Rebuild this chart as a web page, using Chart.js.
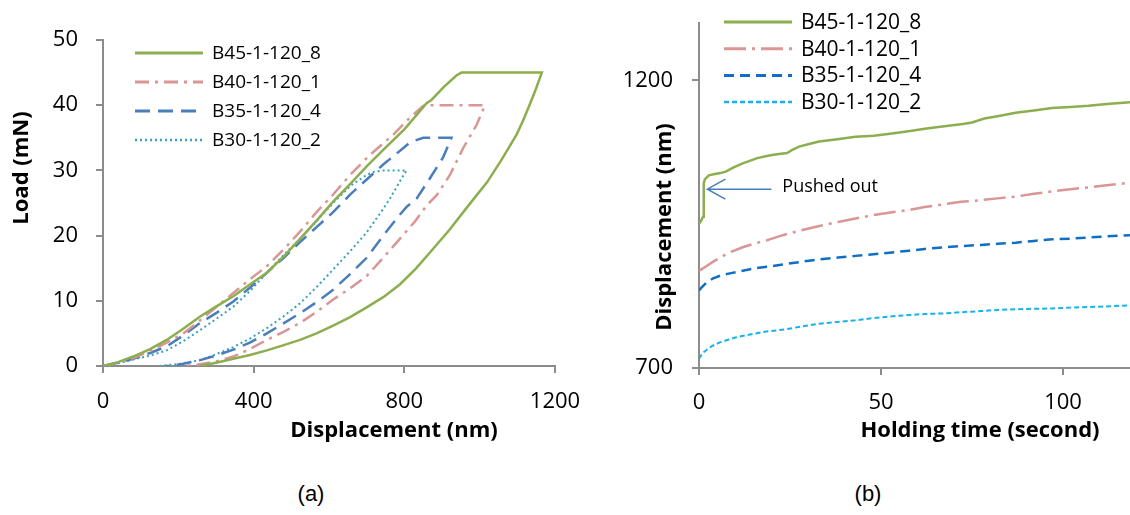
<!DOCTYPE html>
<html>
<head>
<meta charset="utf-8">
<script src="https://cdn.jsdelivr.net/npm/chart.js@4.4.1/dist/chart.umd.min.js"></script>
<style>
  body { margin: 0; background: #fff; }
  #page { position: relative; width: 1130px; height: 515px; overflow: hidden; background: #fff; }
  .box { position: absolute; top: 0; height: 460px; }
  #boxA { left: 0; width: 600px; }
  #boxB { left: 600px; width: 530px; }
  .cap { position: absolute; top: 481px; font: 22px "Liberation Sans", Arial, sans-serif; color: #000; transform: translateX(-50%); }
</style>
</head>
<body>
<div id="page">
  <div class="box" id="boxA"><canvas id="chartA"></canvas></div>
  <div class="box" id="boxB"><canvas id="chartB"></canvas></div>
  <div class="cap" style="left:311px">(a)</div>
  <div class="cap" style="left:868px">(b)</div>
</div>
<script>
// ---- (a) load vs displacement ----
const seriesNames = ['B45-1-120_8', 'B40-1-120_1', 'B35-1-120_4', 'B30-1-120_2'];

const b45Disp = [0, 40, 80, 125, 169, 213, 258, 300, 346, 390, 435, 480, 523, 567, 611, 656, 700, 750, 800, 840, 859, 872, 905, 939, 952,
  1165, 1150, 1133, 1115, 1098, 1060, 1020, 970, 920, 868, 830, 788, 745, 700, 656, 611, 567, 523, 480, 435, 390, 346, 300, 258];
const b45Load = [0, 0.6, 1.45, 2.6, 4.0, 5.7, 7.6, 9.1, 10.7, 12.5, 14.3, 16.8, 19.5, 22.3, 25.2, 27.9, 30.6, 33.5, 36.3, 39.0, 40.3, 40.8, 42.8, 44.6, 45,
  45, 42.6, 40.1, 37.6, 35.5, 31.8, 28.2, 24.6, 20.9, 17.4, 14.9, 12.5, 10.6, 9.0, 7.5, 6.2, 5.0, 4.0, 3.2, 2.4, 1.7, 1.1, 0.5, 0];

const b40Disp = [0, 40, 80, 125, 169, 213, 258, 300, 346, 390, 435, 480, 523, 567, 611, 656, 709, 771, 815, 850, 859,
  1014, 992, 956, 921, 886, 859, 830, 788, 744, 700, 656, 611, 567, 523, 478, 435, 390, 346, 300, 250, 212];
const b40Load = [0, 0.5, 1.2, 2.3, 3.6, 5.0, 7.0, 9.0, 11.2, 13.3, 15.3, 17.9, 20.6, 23.6, 26.3, 29.3, 32.4, 35.5, 38.1, 39.9, 40,
  40, 37, 33.4, 29.3, 26.2, 24.6, 22.3, 19.5, 16.6, 13.8, 11.9, 10.2, 8.3, 6.6, 5.2, 4.0, 2.6, 1.45, 0.7, 0.2, 0];

const b35Disp = [0, 40, 80, 125, 169, 213, 258, 300, 346, 390, 435, 480, 523, 567, 611, 656, 700, 744, 780, 815, 850,
  925, 903, 868, 833, 806, 788, 744, 700, 656, 611, 567, 523, 478, 435, 390, 346, 300, 258, 210, 169];
const b35Load = [0, 0.5, 1.1, 2.0, 3.0, 4.7, 6.6, 8.1, 9.9, 12.0, 14.3, 16.6, 19.0, 21.3, 23.6, 26.3, 28.6, 30.9, 32.6, 34.3, 35,
  35, 32, 28.8, 25.7, 24.4, 23.2, 20.0, 16.6, 14.1, 11.7, 9.8, 8.1, 6.5, 5.0, 3.6, 2.5, 1.6, 0.9, 0.3, 0];

const b30Disp = [0, 40, 80, 125, 169, 213, 258, 300, 346, 390, 435, 479, 523, 567, 611, 656, 700, 720, 744,
  806, 788, 762, 744, 700, 656, 611, 567, 523, 479, 435, 390, 346, 300, 258, 200, 151];
const b30Load = [0, 0.4, 1.0, 1.6, 2.4, 3.8, 5.5, 7.2, 9.1, 11.5, 14.3, 17.0, 19.5, 22.2, 25.0, 27.6, 29.3, 29.8, 30,
  30, 28.3, 25.7, 24.1, 20.5, 17.6, 14.8, 12.1, 9.6, 7.6, 5.8, 4.2, 2.9, 1.8, 0.9, 0.3, 0];

const dispTicksA = [0, 400, 800, 1200];
const loadTicksA = [0, 10, 20, 30, 40, 50];

// ---- (b) displacement vs holding time ----
const b45Time = [0, 0.5, 1.1, 1.3, 1.6, 2.7, 4, 5.9, 7.5, 9.5, 12, 14.7, 16, 19.6, 22, 24.2, 25.5, 27.5, 30, 33, 38, 43, 48, 53, 58, 63, 68, 72.5, 75, 78.4, 82, 87, 92, 97, 102, 107, 112, 118.4];
const b45Hold = [951, 955, 963, 1021, 1028, 1035, 1037, 1039, 1042, 1049, 1056, 1062, 1065, 1070, 1072, 1074, 1079, 1085, 1089, 1094, 1098, 1102, 1104, 1108, 1112, 1117, 1121, 1124.5, 1127, 1134, 1138, 1144, 1148, 1152, 1154, 1156, 1159, 1162];

const b40Time = [0, 2, 3.9, 6, 8.8, 12, 15, 18.6, 23, 28.4, 33, 38.2, 43, 48, 53, 57.8, 62, 67.6, 72, 77.5, 82, 87, 92, 97, 102, 107, 112, 118.4];
const b40Hold = [869, 877, 885, 893, 902, 910, 916, 922, 931, 940, 947, 954, 960, 966, 971, 975, 980, 985, 989, 992, 995, 998, 1003, 1007, 1011, 1014, 1018, 1022];

const b35Time = [0, 1, 2, 3.9, 6, 8.8, 12, 15, 18.6, 23, 28.4, 33, 38.2, 43, 48, 53, 57.8, 62, 67.6, 72, 77.5, 82, 87, 92, 97, 102, 107, 112, 118.4];
const b35Hold = [835, 842, 848, 856, 861, 865, 869, 873, 876, 880, 885, 889, 892, 895, 898, 901, 904, 907, 910, 912, 914, 916, 918, 921, 924, 925, 927, 929, 931];

const b30Time = [0, 0.5, 1, 2, 3.5, 5.9, 8, 10, 13.7, 18, 23.5, 28, 33, 38, 43, 48, 53, 57.8, 62, 67.6, 72, 77.5, 82, 87, 92, 97, 102, 107, 112, 118.4];
const b30Hold = [716, 721, 726, 731, 738, 745, 749, 753, 758, 763, 767, 772, 777, 780, 783, 787, 790, 792, 794, 795, 797, 799, 801, 802, 803, 803.5, 805, 806, 807, 809];

const timeTicksB = [0, 50, 100];
const holdTicksB = [700, 1200];

const FONT = '"Open Sans", sans-serif';
const AXIS = '#8c8c8c';
Chart.defaults.font.family = FONT;
Chart.defaults.color = '#000';

function pts(xs, ys) {
  return xs.map((x, i) => ({ x: x, y: ys[i] }));
}

function line(label, xs, ys, color, dash, width) {
  return {
    label: label,
    data: pts(xs, ys),
    borderColor: color,
    backgroundColor: color,
    borderDash: dash,
    borderWidth: width,
    showLine: true,
    pointRadius: 0,
    tension: 0,
    fill: false
  };
}

function axis(min, max, ticks, size, pad, horizontal) {
  return {
    type: 'linear',
    min: min,
    max: max,
    afterBuildTicks: s => { s.ticks = ticks.map(v => ({ value: v })); },
    afterFit: s => {
      if (horizontal) { s.height = size; s.paddingLeft = 0; s.paddingRight = 0; }
      else { s.width = size; s.paddingTop = 0; s.paddingBottom = 0; }
    },
    grid: { drawOnChartArea: false, drawTicks: true, tickLength: 7, color: AXIS, lineWidth: 2 },
    border: { color: AXIS, width: 2 },
    ticks: {
      color: '#000',
      font: { family: FONT, size: 22 },
      padding: pad,
      maxRotation: 0,
      autoSkip: false,
      callback: v => String(v)
    }
  };
}

// axis titles, legend and note drawn on the canvas
const extras = {
  id: 'extras',
  afterDraw(chart, args, o) {
    const ctx = chart.ctx;
    ctx.save();
    ctx.fillStyle = '#000';
    ctx.textBaseline = 'middle';
    ctx.textAlign = 'center';
    ctx.font = 'bold 22px ' + FONT;
    ctx.fillText(o.xTitle, o.xTitleX, o.xTitleY);
    ctx.save();
    ctx.translate(o.yTitleX, o.yTitleY);
    ctx.rotate(-Math.PI / 2);
    ctx.fillText(o.yTitle, 0, 0);
    ctx.restore();

    // legend
    ctx.textAlign = 'left';
    ctx.font = o.legendSize + 'px ' + FONT;
    chart.data.datasets.forEach((ds, i) => {
      const y = o.legendY + i * o.legendDy;
      ctx.save();
      ctx.strokeStyle = ds.borderColor;
      ctx.lineWidth = ds.borderWidth + 0.5;
      ctx.setLineDash(ds.borderDash || []);
      ctx.beginPath();
      ctx.moveTo(o.legendX, y);
      ctx.lineTo(o.legendX + 68, y);
      ctx.stroke();
      ctx.restore();
      ctx.fillText(ds.label, o.legendX + 77, y + 1);
    });

    if (o.note) {
      const xs = chart.scales.x, ys = chart.scales.y;
      const tx = xs.getPixelForValue(o.note.x), ty = ys.getPixelForValue(o.note.y);
      ctx.strokeStyle = '#4a7ebb';
      ctx.lineWidth = 1.5;
      ctx.beginPath();
      ctx.moveTo(tx + 64, ty);
      ctx.lineTo(tx, ty);
      ctx.moveTo(tx + 18, ty - 10);
      ctx.lineTo(tx, ty);
      ctx.lineTo(tx + 18, ty + 10);
      ctx.stroke();
      ctx.font = '18px ' + FONT;
      ctx.fillStyle = '#000';
      ctx.fillText(o.note.text, tx + 75, ty - 2);
    }
    ctx.restore();
  }
};

new Chart(document.getElementById('chartA'), {
  type: 'scatter',
  data: {
    datasets: [
      line(seriesNames[0], b45Disp, b45Load, '#8cae4e', [], 2.5),
      line(seriesNames[1], b40Disp, b40Load, '#d99694', [14, 6, 3, 6], 2.5),
      line(seriesNames[2], b35Disp, b35Load, '#4a7ebb', [15, 8], 2.5),
      line(seriesNames[3], b30Disp, b30Load, '#35a0c0', [2, 3], 2)
    ]
  },
  options: {
    responsive: true,
    maintainAspectRatio: false,
    animation: false,
    layout: { padding: { left: 0, top: 40, right: 45, bottom: 0 } },
    scales: {
      x: axis(0, 1200, dispTicksA, 94, 16, true),
      y: axis(0, 50, loadTicksA, 103, 18, false)
    },
    plugins: {
      legend: { display: false },
      tooltip: { enabled: false },
      extras: {
        xTitle: 'Displacement (nm)', xTitleX: 394, xTitleY: 431,
        yTitle: 'Load (mN)', yTitleX: 22, yTitleY: 168,
        legendX: 135, legendY: 53, legendDy: 29, legendSize: 19
      }
    }
  },
  plugins: [extras]
});

new Chart(document.getElementById('chartB'), {
  type: 'scatter',
  data: {
    datasets: [
      line(seriesNames[0], b45Time, b45Hold, '#8cae4e', [], 2.5),
      line(seriesNames[1], b40Time, b40Hold, '#d99694', [22, 6, 3, 6], 2.5),
      line(seriesNames[2], b35Time, b35Hold, '#0f6fc6', [10, 6], 2.5),
      line(seriesNames[3], b30Time, b30Hold, '#1ab0ee', [5, 3], 2)
    ]
  },
  options: {
    responsive: true,
    maintainAspectRatio: false,
    animation: false,
    layout: { padding: { left: 0, top: 23, right: 0, bottom: 0 } },
    scales: {
      x: axis(0, 118.4, timeTicksB, 92, 15, true),
      y: axis(700, 1300, holdTicksB, 99, 19, false)
    },
    plugins: {
      legend: { display: false },
      tooltip: { enabled: false },
      extras: {
        xTitle: 'Holding time (second)', xTitleX: 380, xTitleY: 431,
        yTitle: 'Displacement (nm)', yTitleX: 65, yTitleY: 227,
        legendX: 124, legendY: 22, legendDy: 26.7, legendSize: 21,
        note: { x: 2.3, y: 1011, text: 'Pushed out' }
      }
    }
  },
  plugins: [extras]
});
</script>
</body>
</html>
